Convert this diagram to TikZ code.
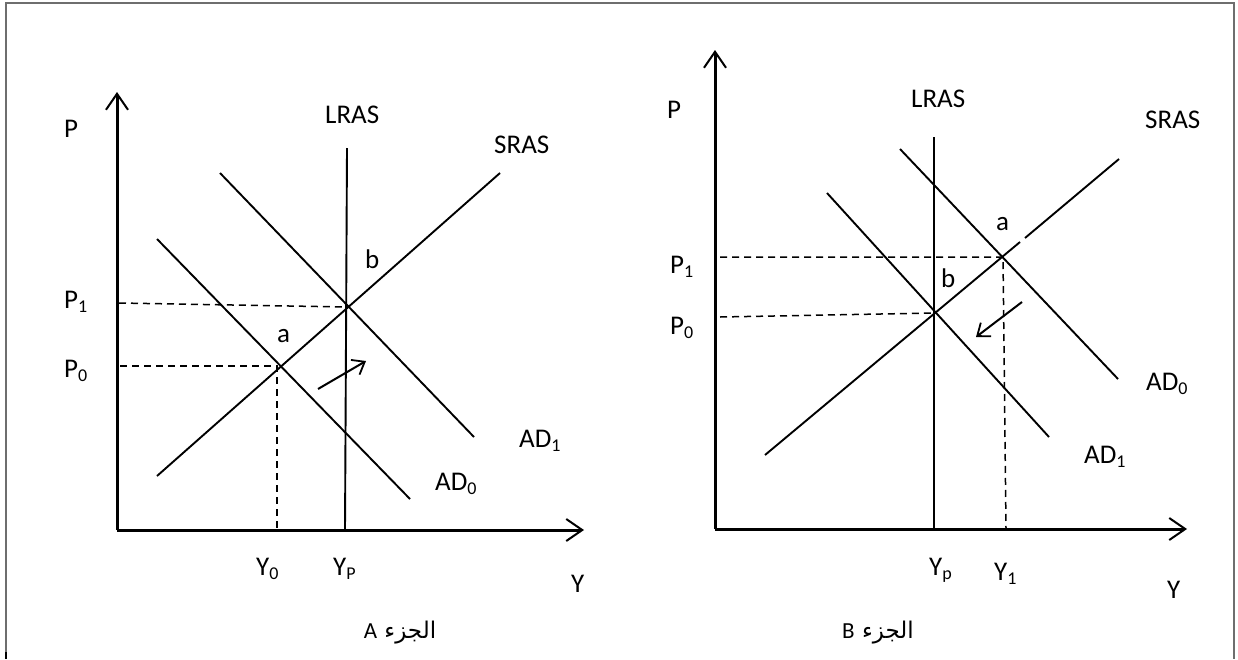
\documentclass[tikz,border=0pt]{standalone}
\usepackage{fontspec}
\setmainfont{Carlito}
\newfontfamily\arabicfont[Script=Arabic]{DejaVu Sans}
\TeXXeTstate=1
\usetikzlibrary{arrows.meta}
\definecolor{framegray}{RGB}{110,110,110}
\newcommand{\sbs}[1]{\raisebox{-4.5pt}{\fontsize{18}{18}\selectfont #1}}
\begin{document}
\begin{tikzpicture}[x=1pt,y=-1pt,
  axis/.style={line width=3pt,-{Straight Barb[length=16pt,width=22pt,line width=2pt]}},
  curve/.style={line width=1.9pt},
  guide/.style={line width=1.5pt,dash pattern=on 7pt off 5pt},
  shiftarrow/.style={line width=2pt,-{Straight Barb[length=11pt,width=17pt,line width=1.8pt]}},
  lbl/.style={inner sep=0pt,anchor=base west,font=\fontsize{27}{31}\selectfont},
  captext/.style={inner sep=0pt,anchor=base,font=\fontsize{23}{27}\selectfont}]
\useasboundingbox (0,0) rectangle (1238,659);
% frame
\coordinate (fbl) at (6,659); \coordinate (ftl) at (6,3);
\coordinate (ftr) at (1234,3); \coordinate (fbr) at (1234,659);
\coordinate (fblk) at (6,652);
\draw[framegray,line width=1.5pt] (fbl) -- (ftl) -- (ftr) -- (fbr);
\draw[black,line width=1.5pt] (fblk) -- (fbl);

% ===== Panel A =====
\coordinate (Ao) at (117,530);
\coordinate (Aytip) at (117,92);
\coordinate (Axtip) at (584,530);
\draw[axis] (Ao) -- (Aytip);
\draw[axis] (Ao) -- (Axtip);
\coordinate (ALt) at (347,148); \coordinate (ALb) at (345,530);
\draw[curve] (ALt) -- (ALb);
\coordinate (ASb) at (157,476); \coordinate (ASt) at (500,173);
\draw[curve] (ASb) -- (ASt);
\coordinate (AD1t) at (220,173); \coordinate (AD1b) at (474,437);
\draw[curve] (AD1t) -- (AD1b);
\coordinate (AD0t) at (157,239); \coordinate (AD0b) at (410,499);
\draw[curve] (AD0t) -- (AD0b);
\coordinate (Ab) at (346,307); \coordinate (Aa) at (277,366);
\coordinate (AP1) at (119,303); \coordinate (AP0) at (120,366);
\coordinate (AY0) at (277,530);
\draw[guide] (AP1) -- (Ab);
\draw[guide] (AP0) -- (Aa) -- (AY0);
\coordinate (Aarr1) at (318,389); \coordinate (Aarr2) at (366,361);
\draw[shiftarrow] (Aarr1) -- (Aarr2);
\node[lbl] (AlP) at (64,137) {P};
\node[lbl] (AlLRAS) at (325,123) {LRAS};
\node[lbl] (AlSRAS) at (494,153) {SRAS};
\node[lbl] (Alb) at (365,268) {b};
\node[lbl] (Ala) at (277,342) {a};
\node[lbl] (AlP1) at (64,308) {P\sbs{1}};
\node[lbl] (AlP0) at (64,377) {P\sbs{0}};
\node[lbl] (AlAD1) at (519,447) {AD\sbs{1}};
\node[lbl] (AlAD0) at (435,490) {AD\sbs{0}};
\node[lbl] (AlY0) at (256,575) {Y\sbs{0}};
\node[lbl] (AlYP) at (333,575) {Y\sbs{P}};
\node[lbl] (AlY) at (571,592) {Y};
\node[captext] (Acap) at (400,638) {\arabicfont\beginR الجزء {\rmfamily A}\endR};

% ===== Panel B =====
\coordinate (Bo) at (715,529);
\coordinate (Bytip) at (715,50);
\coordinate (Bxtip) at (1187,529);
\draw[axis] (Bo) -- (Bytip);
\draw[axis] (Bo) -- (Bxtip);
\coordinate (BLt) at (934,137); \coordinate (BLb) at (934,529);
\draw[curve] (BLt) -- (BLb);
\coordinate (BSb) at (765,455); \coordinate (BSg1) at (1020,242);
\coordinate (BSg2) at (1025,238); \coordinate (BSt) at (1119,159);
\draw[curve] (BSb) -- (BSg1);
\draw[curve] (BSg2) -- (BSt);
\coordinate (BD0t) at (900,149); \coordinate (BD0b) at (1118,379);
\draw[curve] (BD0t) -- (BD0b);
\coordinate (BD1t) at (827,193); \coordinate (BD1b) at (1049,437);
\draw[curve] (BD1t) -- (BD1b);
\coordinate (Ba) at (1003,257); \coordinate (Bb) at (934,313);
\coordinate (BP1) at (720,257); \coordinate (BP0) at (720,317);
\coordinate (BY1) at (1006,529);
\draw[guide] (BP1) -- (Ba) -- (BY1);
\draw[guide] (BP0) -- (Bb);
\coordinate (Barr1) at (1022,302); \coordinate (Barr2) at (976,337);
\draw[shiftarrow] (Barr1) -- (Barr2);
\node[lbl] (BlP) at (667,118) {P};
\node[lbl] (BlLRAS) at (911,107) {LRAS};
\node[lbl] (BlSRAS) at (1145,128) {SRAS};
\node[lbl] (Bla) at (996,230) {a};
\node[lbl] (Blb) at (941,287) {b};
\node[lbl] (BlP1) at (670,273) {P\sbs{1}};
\node[lbl] (BlP0) at (670,334) {P\sbs{0}};
\node[lbl] (BlAD0) at (1146,390) {AD\sbs{0}};
\node[lbl] (BlAD1) at (1084,463) {AD\sbs{1}};
\node[lbl] (BlYp) at (929,575) {Y\sbs{p}};
\node[lbl] (BlY1) at (994,580) {Y\sbs{1}};
\node[lbl] (BlY) at (1167,598) {Y};
\node[captext] (Bcap) at (878,638) {\arabicfont\beginR الجزء {\rmfamily B}\endR};
\end{tikzpicture}
\end{document}
